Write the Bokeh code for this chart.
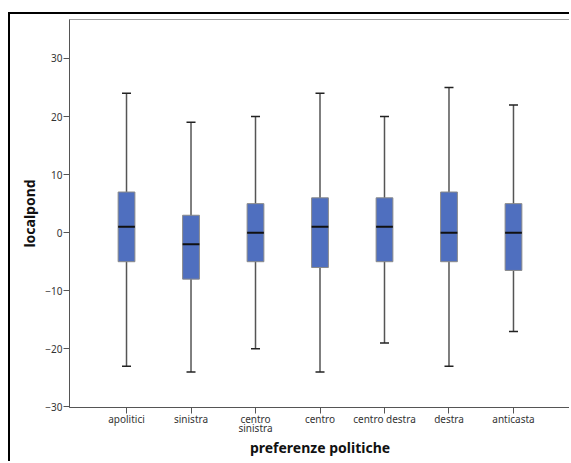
from bokeh.plotting import figure
from bokeh.models import Range1d, FixedTicker, ColumnDataSource
from bokeh.embed import file_html
from bokeh.resources import INLINE

categories = ["apolitici", "sinistra", "centro\nsinistra", "centro", "centro destra", "destra", "anticasta"]
whisker_low = [-23, -24, -20, -24, -19, -23, -17]
q1 = [-5, -8, -5, -6, -5, -5, -6.5]
median = [1, -2, 0, 1, 1, 0, 0]
q3 = [7, 3, 5, 6, 6, 7, 5]
whisker_high = [24, 19, 20, 24, 20, 25, 22]
y_ticks = [-30, -20, -10, 0, 10, 20, 30]

xs = list(range(len(categories)))
box_w = 0.26
src = ColumnDataSource(dict(
    x=xs, lo=whisker_low, q1=q1, med=median, q3=q3, hi=whisker_high,
    xl=[x - box_w / 2 for x in xs], xr=[x + box_w / 2 for x in xs],
))

p = figure(width=561, height=449, output_backend="svg", toolbar_location=None,
           x_range=Range1d(-0.884, 6.884), y_range=Range1d(-30.1, 36.7),
           min_border_left=59, min_border_top=5, min_border_right=1, min_border_bottom=56)
p.margin = (12, 0, 0, 8)
p.styles = {"border-top": "2px solid black", "border-left": "2px solid black"}
p.xgrid.visible = False
p.ygrid.visible = False
p.outline_line_color = "#a0a0a0"
p.outline_line_width = 1
p.background_fill_color = "white"
p.border_fill_color = "white"

# whiskers
p.segment(x0="x", y0="lo", x1="x", y1="hi", source=src, line_color="#555555", line_width=1.5)
p.scatter(x="x", y="lo", source=src, marker="dash", size=9, line_color="#222222", line_width=1.5)
p.scatter(x="x", y="hi", source=src, marker="dash", size=9, line_color="#222222", line_width=1.5)
# boxes
p.quad(left="xl", right="xr", bottom="q1", top="q3", source=src,
       fill_color="#4f6fbf", line_color="#8a8a8a", line_width=1)
# medians
p.segment(x0="xl", y0="med", x1="xr", y1="med", source=src, line_color="#111111", line_width=2)

p.xaxis.ticker = FixedTicker(ticks=xs)
p.xaxis.major_label_overrides = {i: c for i, c in enumerate(categories)}
p.yaxis.ticker = FixedTicker(ticks=y_ticks)
p.yaxis.major_label_overrides = {t: str(t).replace("-", "\u2212") for t in y_ticks}
for ax in (p.xaxis[0], p.yaxis[0]):
    ax.minor_tick_line_color = None
    ax.major_tick_out = 6
    ax.major_tick_in = 0
    ax.major_tick_line_color = "#555555"
    ax.axis_line_color = "#555555"
    ax.major_label_text_font = "Noto Sans"
    ax.major_label_text_font_size = "10px"
    ax.major_label_text_color = "#333333"
    ax.major_label_text_line_height = 0.65
    ax.axis_label_text_font = "Noto Sans"
    ax.axis_label_text_font_style = "bold"
    ax.axis_label_text_font_size = "14px"
    ax.axis_label_text_color = "#111111"
p.xaxis.major_label_standoff = -2
p.yaxis.major_label_standoff = 1
p.xaxis.axis_label = "preferenze politiche"
p.yaxis.axis_label = "localpond"
p.xaxis.axis_label_standoff = 0
p.yaxis.axis_label_standoff = 3

open("out.html", "w").write(file_html(p, INLINE))
